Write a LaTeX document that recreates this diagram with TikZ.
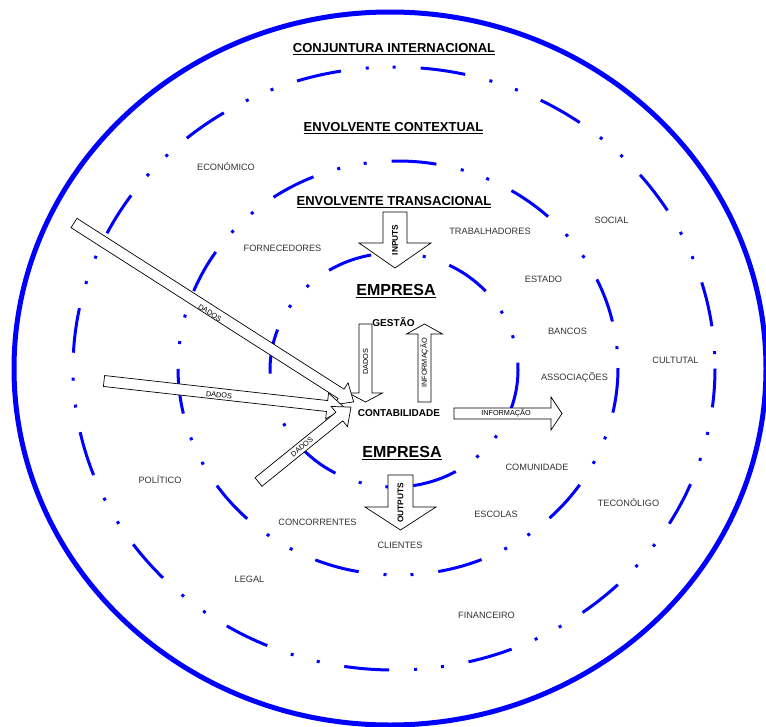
\documentclass[tikz,border=0pt]{standalone}
\usepackage{fontspec}
\setmainfont{Liberation Sans}
\definecolor{ringblue}{RGB}{0,0,255}
\tikzset{
  pics/blockarrow/.style args={#1/#2/#3/#4}{code={
    % length / half shaft width / half head width / head length
    \draw[arrowbody] (0,#2) -- ({#1-#4},#2) -- ({#1-#4},#3) -- (#1,0)
      -- ({#1-#4},-#3) -- ({#1-#4},-#2) -- (0,-#2) -- cycle;
  }},
}
\begin{document}
\begin{tikzpicture}[x=1pt,y=-1pt,
  outerring/.style={draw=ringblue, line width=5pt},
  ring/.style={draw=ringblue, line width=3pt, line cap=butt,
    dash pattern=on 45pt off 25pt on 3pt off 24pt on 3pt off 25pt},
  arrowbody/.style={draw=black, fill=white, line width=0.7pt, line join=miter},
  title/.style={anchor=base, inner sep=0pt, font=\bfseries\fontsize{13}{13}\selectfont},
  company/.style={anchor=base, inner sep=0pt, font=\bfseries\fontsize{16}{16}\selectfont},
  boldlabel/.style={anchor=base, inner sep=0pt, font=\bfseries\fontsize{10}{10}\selectfont},
  factor/.style={anchor=base, inner sep=0pt, text=black!80, font=\fontsize{9.2}{10}\selectfont},
  arrowtext/.style={inner sep=0pt, font=\fontsize{7.3}{8}\selectfont},
  arrowtitle/.style={inner sep=0pt, font=\bfseries\fontsize{8.3}{9}\selectfont},
]
\useasboundingbox (0,0) rectangle (766,726);

% environment rings
\draw[outerring] (390,368.5) ellipse [x radius=376, y radius=356.5];
\draw[ring, dash phase=6pt] (394,368.5) ellipse [x radius=321, y radius=301.5];
\draw[ring] (398,368) ellipse [x radius=220, y radius=207];
\draw[ring] (394,370) ellipse [x radius=124, y radius=117];

% flows
\pic[rotate=-90] at (395,212) {blockarrow=56/12/36/25};
\pic[rotate=-90] at (400.5,475) {blockarrow=55/12.5/35.5/23};
\pic[rotate=-90] at (365.5,324) {blockarrow=78/6.5/17/9};
\pic[rotate=90] at (424.5,402) {blockarrow=78/6.5/18/10};
\pic at (454,413.5) {blockarrow=108/5.5/16.5/11};
\pic[rotate=-32.6] at (74,223) {blockarrow=332/5.5/13/15};
\pic[rotate=-6.4] at (104,381) {blockarrow=242.5/5.5/13/18};
\pic[rotate=39] at (258.5,482) {blockarrow=119/5.5/13/15};

% arrow captions
\node[arrowtitle, rotate=90] (inputs) at (395,240) {INPUTS};
\node[arrowtitle, rotate=90] (outputs) at (400.5,503) {OUTPUTS};
\node[arrowtext, rotate=90] (dadosdown) at (365.5,362) {DADOS};
\node[arrowtext, rotate=90] (infoup) at (424.5,363) {INFORMAÇÃO};
\node[arrowtext] (inforight) at (506,413.5) {INFORMAÇÃO};
\node[arrowtext, rotate=-32.6] (dadosa) at (210,313) {DADOS};
\node[arrowtext, rotate=-6.4] (dadosb) at (219,395) {DADOS};
\node[arrowtext, rotate=39] (dadosc) at (302,447) {DADOS};

% titles
\node[title] (conj) at (394,52.6) {\underline{CONJUNTURA INTERNACIONAL}};
\node[title] (contex) at (393.5,131.6) {\underline{ENVOLVENTE CONTEXTUAL}};
\node[title] (trans) at (394,205.6) {\underline{ENVOLVENTE TRANSACIONAL}};
\node[company] (emptop) at (396,295.7) {\underline{EMPRESA}};
\node[company] (empbot) at (402,457.7) {\underline{EMPRESA}};
\node[boldlabel] (gestao) at (393.5,326.6) {GESTÃO};
\node[boldlabel] (contab) at (399,416.6) {CONTABILIDADE};

% environment factors
\node[factor] (economico) at (226,170.3) {ECONÓMICO};
\node[factor] (fornec) at (282.5,251.3) {FORNECEDORES};
\node[factor] (trabal) at (490,234.3) {TRABALHADORES};
\node[factor] (social) at (611.5,223.3) {SOCIAL};
\node[factor] (estado) at (543.5,282.3) {ESTADO};
\node[factor] (bancos) at (567.5,334.3) {BANCOS};
\node[factor] (cultutal) at (675.5,363.3) {CULTUTAL};
\node[factor] (assoc) at (574.5,380.3) {ASSOCIAÇÕES};
\node[factor] (comunid) at (537,470.3) {COMUNIDADE};
\node[factor] (tecno) at (628.5,506.3) {TECONÓLIGO};
\node[factor] (escolas) at (496,517.3) {ESCOLAS};
\node[factor] (concorr) at (317.5,525.3) {CONCORRENTES};
\node[factor] (clientes) at (400,548.3) {CLIENTES};
\node[factor] (politico) at (160,483.3) {POLÍTICO};
\node[factor] (legal) at (249.5,582.3) {LEGAL};
\node[factor] (financ) at (486.5,618.3) {FINANCEIRO};
\end{tikzpicture}
\end{document}
